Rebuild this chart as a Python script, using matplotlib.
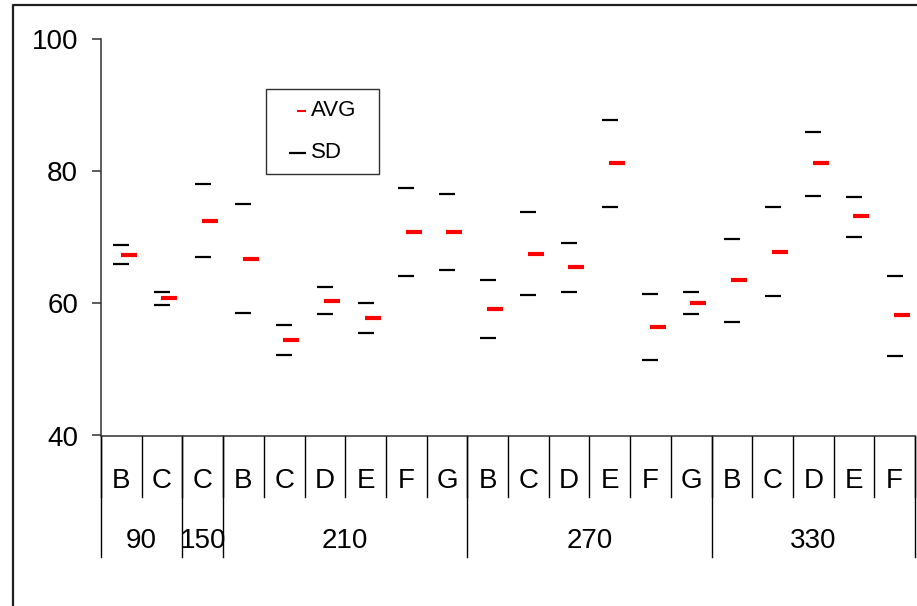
import numpy as np
import matplotlib
matplotlib.use("Agg")
import matplotlib.pyplot as plt
from matplotlib.lines import Line2D
from matplotlib.patches import Rectangle
import matplotlib.transforms as mtransforms

plt.rcParams['font.family'] = ['Liberation Sans', 'DejaVu Sans']

# ---- data ----
categories = ['B', 'C', 'C', 'B', 'C', 'D', 'E', 'F', 'G', 'B',
              'C', 'D', 'E', 'F', 'G', 'B', 'C', 'D', 'E', 'F']
groups = ['90', '150', '210', '270', '330']
group_sizes = [2, 1, 6, 6, 5]
avg = [67.4, 60.8, 72.5, 66.7, 54.5, 60.4, 57.8, 70.8, 70.8, 59.1,
       67.5, 65.5, 81.2, 56.5, 60.1, 63.5, 67.8, 81.2, 73.2, 58.2]
sd_upper = [68.9, 61.8, 78.1, 75.1, 56.7, 62.5, 60.1, 77.5, 76.6, 63.5,
            73.8, 69.1, 87.8, 61.4, 61.8, 69.8, 74.6, 86.0, 76.1, 64.2]
sd_lower = [66.0, 59.8, 67.1, 58.6, 52.2, 58.4, 55.5, 64.2, 65.0, 54.8,
            61.3, 61.8, 74.6, 51.4, 58.4, 57.2, 61.1, 76.3, 70.1, 52.0]
yticks = [40, 60, 80, 100]

W, H = 917, 606
def fx(px): return px / W
def fy(py): return 1 - py / H

fig = plt.figure(figsize=(W / 100, H / 100), dpi=100)
ax = fig.add_axes([fx(101), fy(435.5), fx(915) - fx(101), fy(39.3) - fy(435.5)])

n = len(categories)
x = np.arange(n) + 0.5
axis_col = '#303030'
fs = 20

ax.plot(x, sd_upper, ls='none', marker='_', ms=12.2, mew=1.6, color='black')
ax.plot(x, sd_lower, ls='none', marker='_', ms=12.2, mew=1.6, color='black')
ax.plot(x + 0.18, avg, ls='none', marker='_', ms=12.2, mew=3.0, color='#ff0000')

ax.set_xlim(0, n)
ax.set_ylim(40, 100)
ax.set_yticks(yticks)
ax.set_xticks([])
for s in ['top', 'right']:
    ax.spines[s].set_visible(False)
for s in ['left', 'bottom']:
    ax.spines[s].set_color(axis_col)
    ax.spines[s].set_linewidth(1.1)
ax.tick_params(axis='y', direction='out', length=6.5, width=1.1, color=axis_col,
               pad=10, labelsize=fs)

# multi-level category axis
trans = mtransforms.blended_transform_factory(ax.transData, ax.transAxes)
short_y = -0.1545
long_y = -0.306
for b in range(n + 1):
    ax.plot([b, b], [0, short_y], transform=trans, clip_on=False, color='black', lw=1.0)
for i, c in enumerate(categories):
    ax.text(i + 0.5, -0.114, c, transform=trans, ha='center', va='center', fontsize=fs)
bounds = np.concatenate([[0], np.cumsum(group_sizes)])
for b in bounds:
    ax.plot([b, b], [0, long_y], transform=trans, clip_on=False, color='black', lw=1.0)
for g, a, bnd in zip(groups, bounds[:-1], bounds[1:]):
    ax.text((a + bnd) / 2, -0.267, g, transform=trans, ha='center', va='center', fontsize=fs)

# legend (drawn in figure pixel positions)
fig.add_artist(Rectangle((fx(266), fy(174)), fx(379) - fx(266), fy(88.7) - fy(174),
                         transform=fig.transFigure, fill=False, edgecolor=axis_col, lw=1.0))
fig.add_artist(Line2D([fx(297), fx(306)], [fy(110.5), fy(110.5)], transform=fig.transFigure,
                      color='#ff0000', lw=1.5, solid_capstyle='butt'))
fig.add_artist(Line2D([fx(289), fx(306)], [fy(152.5), fy(152.5)], transform=fig.transFigure,
                      color='black', lw=1.6, solid_capstyle='butt'))
fig.text(fx(311), fy(111), 'AVG', ha='left', va='center', fontsize=16)
fig.text(fx(311), fy(153), 'SD', ha='left', va='center', fontsize=16)

# outer chart frame
fig.add_artist(Line2D([fx(13), fx(13), 1.01], [-0.01, fy(5), fy(5)], transform=fig.transFigure,
                      color='#202020', lw=1.6))

fig.savefig('out.png', dpi=100)
